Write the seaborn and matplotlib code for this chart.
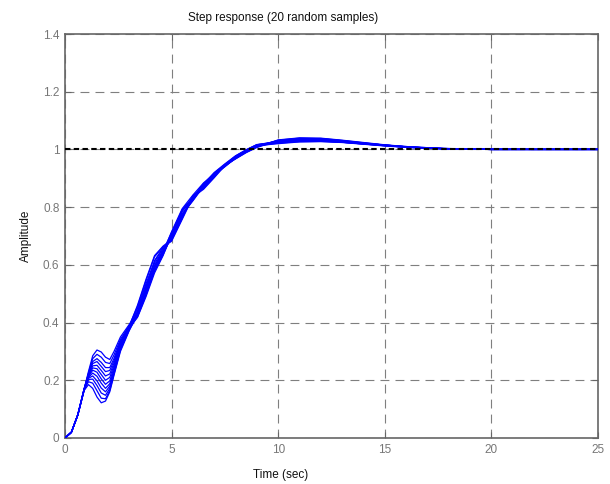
import numpy as np
import pandas as pd
import matplotlib
matplotlib.use("Agg")
import matplotlib.pyplot as plt
import seaborn as sns

# time grid (sec)
time = [0, 0.3, 0.6, 0.9, 1.1, 1.3, 1.5, 1.7, 1.9, 2.1, 2.3, 2.6, 3.0,
        3.4, 3.8, 4.2, 4.6, 5.0, 5.5, 6.0, 6.5, 7.0, 7.5, 8.0, 8.5, 9.0,
        10, 11, 12, 13, 14, 15, 16, 17, 18, 20, 22, 25]

# amplitudes of the random samples
s01 = [0, .02, .08, .17, .230, .285, .305, .298, .280, .272, .300, .350, .392,
       .430, .520, .615, .660, .685, .762, .838, .865, .905, .945, .968, .990, 1.008,
       1.033, 1.040, 1.039, 1.032, 1.024, 1.016, 1.010, 1.006, 1.003, 1.001, 1.000, 1.000]
s02 = [0, .02, .08, .17, .225, .275, .290, .280, .262, .258, .288, .342, .388,
       .455, .545, .628, .662, .682, .758, .835, .862, .902, .944, .967, .989, 1.007,
       1.030, 1.038, 1.038, 1.031, 1.023, 1.015, 1.009, 1.005, 1.002, 1.000, 1.000, 1.000]
s03 = [0, .02, .08, .17, .222, .265, .275, .262, .244, .244, .276, .336, .385,
       .420, .495, .578, .635, .700, .785, .828, .878, .918, .948, .976, .998, 1.016,
       1.027, 1.031, 1.030, 1.025, 1.019, 1.013, 1.008, 1.004, 1.002, 1.000, 1.000, 1.000]
s04 = [0, .02, .08, .17, .220, .258, .265, .248, .230, .234, .268, .332, .384,
       .460, .550, .632, .665, .688, .765, .840, .866, .906, .946, .969, .991, 1.009,
       1.032, 1.039, 1.037, 1.030, 1.022, 1.015, 1.009, 1.005, 1.002, 1.000, 1.000, 1.000]
s05 = [0, .02, .08, .17, .218, .250, .252, .234, .215, .222, .260, .328, .383,
       .425, .505, .590, .642, .695, .775, .822, .872, .912, .940, .970, .994, 1.012,
       1.022, 1.027, 1.028, 1.025, 1.019, 1.013, 1.008, 1.005, 1.002, 1.000, 1.000, 1.000]
s06 = [0, .02, .08, .17, .215, .243, .240, .220, .200, .210, .252, .324, .382,
       .448, .535, .612, .655, .690, .770, .833, .868, .909, .945, .972, .993, 1.011,
       1.031, 1.037, 1.036, 1.030, 1.022, 1.015, 1.009, 1.005, 1.002, 1.000, 1.000, 1.000]
s07 = [0, .02, .08, .17, .213, .235, .228, .205, .186, .198, .244, .320, .380,
       .418, .490, .572, .632, .705, .790, .832, .880, .920, .950, .978, .999, 1.017,
       1.024, 1.029, 1.029, 1.025, 1.019, 1.013, 1.008, 1.004, 1.002, 1.000, 1.000, 1.000]
s08 = [0, .02, .08, .17, .210, .225, .214, .190, .172, .188, .236, .316, .379,
       .440, .528, .605, .650, .693, .772, .826, .874, .913, .943, .973, .996, 1.014,
       1.028, 1.035, 1.035, 1.029, 1.021, 1.014, 1.009, 1.005, 1.002, 1.000, 1.000, 1.000]
s09 = [0, .02, .08, .168, .207, .215, .198, .173, .160, .180, .230, .312, .377,
       .432, .515, .598, .645, .698, .778, .824, .876, .915, .942, .971, .995, 1.013,
       1.020, 1.026, 1.027, 1.024, 1.018, 1.012, 1.007, 1.004, 1.002, 1.000, 1.000, 1.000]
s10 = [0, .02, .08, .167, .203, .204, .182, .156, .148, .172, .226, .308, .375,
       .422, .500, .582, .638, .708, .792, .830, .882, .917, .947, .977, .998, 1.016,
       1.029, 1.034, 1.033, 1.027, 1.020, 1.014, 1.008, 1.004, 1.002, 1.000, 1.000, 1.000]
s11 = [0, .02, .08, .166, .195, .190, .164, .138, .136, .165, .222, .305, .372,
       .436, .520, .596, .648, .712, .788, .836, .879, .911, .941, .970, .994, 1.012,
       1.025, 1.032, 1.033, 1.028, 1.021, 1.015, 1.009, 1.005, 1.002, 1.000, 1.000, 1.000]
s12 = [0, .02, .08, .165, .185, .172, .142, .122, .128, .160, .218, .300, .370,
       .428, .508, .588, .644, .715, .795, .842, .884, .914, .944, .974, .997, 1.015,
       1.023, 1.030, 1.031, 1.027, 1.021, 1.015, 1.010, 1.006, 1.003, 1.000, 1.000, 1.000]

samples = [s01, s02, s03, s04, s05, s06, s07, s08, s09, s10, s11, s12]
reference_level = 1.0

xticks = [0, 5, 10, 15, 20, 25]
yticks = [0, 0.2, 0.4, 0.6, 0.8, 1.0, 1.2, 1.4]
ytick_labels = ["0", "0.2", "0.4", "0.6", "0.8", "1", "1.2", "1.4"]

rows = []
for k, s in enumerate(samples):
    for t, v in zip(time, s):
        rows.append({"sample": k, "time": t, "amp": v})
df = pd.DataFrame(rows)

sns.set_style("white")
plt.rcParams["font.family"] = ["Liberation Sans", "DejaVu Sans"]

fig = plt.figure(figsize=(6.10, 4.84), dpi=100)
ax = fig.add_axes([65 / 610, 1 - 438 / 484, (598 - 65) / 610, (438 - 34) / 484])

ax.grid(True, color="#7f7f7f", linestyle=(0, (8, 5.5)), linewidth=0.8)
ax.set_axisbelow(True)

sns.lineplot(data=df, x="time", y="amp", units="sample", estimator=None,
             color="#0000ff", linewidth=0.9, ax=ax, legend=False, zorder=3)
ax.axhline(reference_level, color="black", linewidth=1.5,
           linestyle=(0, (2.6, 1.6)), zorder=4)

ax.set_xlim(0, 25)
ax.set_ylim(0, 1.4)
ax.set_xticks(xticks)
ax.set_yticks(yticks)
ax.set_yticklabels(ytick_labels)

for sp in ax.spines.values():
    sp.set_color("#666666")
    sp.set_linewidth(1.2)
ax.tick_params(direction="in", length=4, width=0.8, colors="#666666",
               labelcolor="#777777", labelsize=8.5, top=True, right=True,
               bottom=True, left=True, pad=4)

ax.set_title("Step response (20 random samples)", fontsize=8.5, color="#111111", pad=9)
ax.title.set_x((283 - 65) / 533)
ax.set_xlabel("Time (sec)", fontsize=8.5, color="#111111", labelpad=10)
ax.xaxis.label.set_x((281 - 65) / 533)
ax.set_ylabel("Amplitude", fontsize=8.5, color="#111111", labelpad=8)

fig.savefig("out.png", dpi=100, facecolor="white")
